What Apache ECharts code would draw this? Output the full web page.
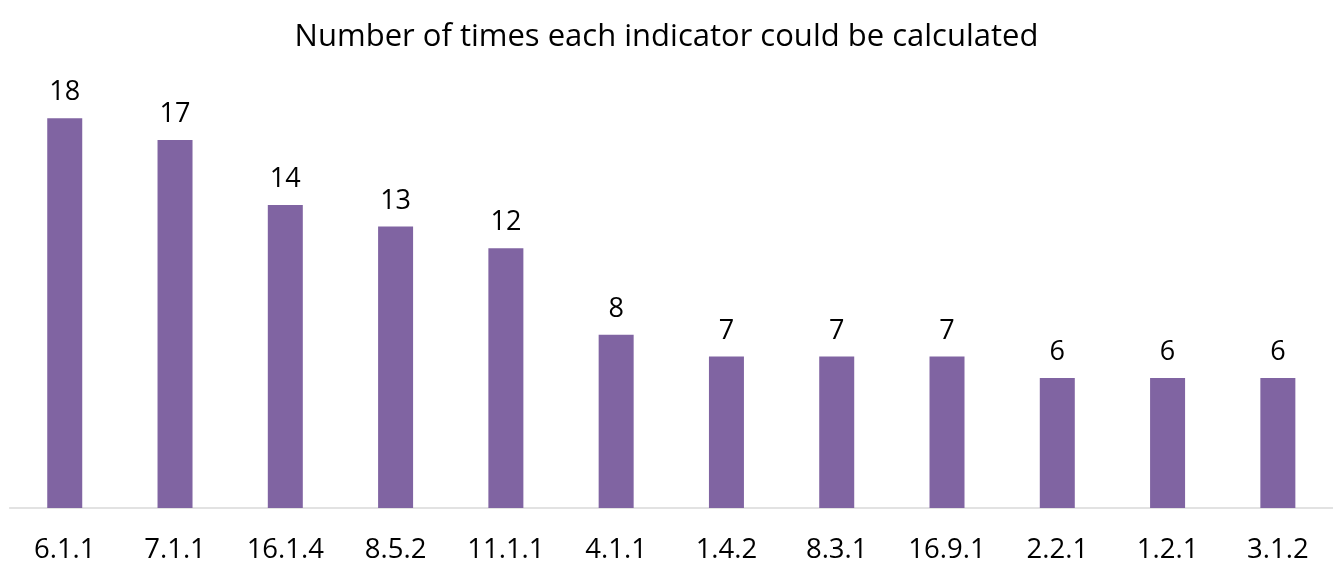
<!DOCTYPE html>
<html>
<head>
<meta charset="utf-8">
<script src="https://cdn.jsdelivr.net/npm/echarts@6/dist/echarts.min.js"></script>
<style>
html,body{margin:0;padding:0;background:#fff;}
#chart{width:1333px;height:564px;}
</style>
</head>
<body>
<div id="chart"></div>
<script>
const titleText = "Number of times each indicator could be calculated";
const categories = ["6.1.1","7.1.1","16.1.4","8.5.2","11.1.1","4.1.1","1.4.2","8.3.1","16.9.1","2.2.1","1.2.1","3.1.2"];
const values = [18,17,14,13,12,8,7,7,7,6,6,6];

const FONT = "Open Sans";
const chart = echarts.init(document.getElementById('chart'), null, {renderer:'canvas'});
chart.setOption({
  animation:false,
  backgroundColor:'#ffffff',
  title:{
    text:titleText,
    left:'center',
    top:17,
    textStyle:{fontFamily:FONT,fontSize:31,fontWeight:'normal',color:'#000000'}
  },
  grid:{left:9.6,right:-17,top:75,bottom:54,containLabel:false},
  xAxis:{
    type:'category',
    data:categories,
    axisLine:{show:true,lineStyle:{color:'#D9D9D9',width:1.5}},
    axisTick:{show:false},
    axisLabel:{fontFamily:FONT,fontSize:27.5,color:'#000000',margin:28}
  },
  yAxis:{
    type:'value',min:0,max:20,
    axisLine:{show:false},axisTick:{show:false},axisLabel:{show:false},
    splitLine:{show:false}
  },
  series:[{
    type:'bar',
    data:values,
    barWidth:35,
    itemStyle:{color:'#8064A2'},
    label:{show:true,position:'top',distance:12,fontFamily:FONT,fontSize:27,color:'#000000'}
  }]
});
</script>
</body>
</html>
